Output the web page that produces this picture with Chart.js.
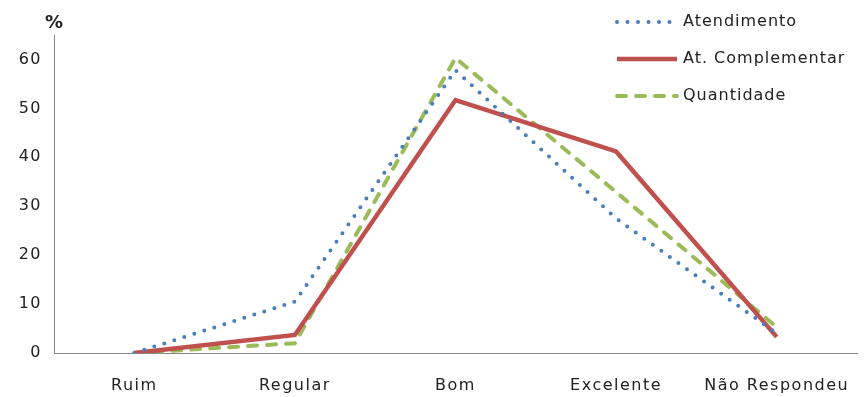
<!DOCTYPE html>
<html>
<head>
<meta charset="utf-8">
<script src="https://cdn.jsdelivr.net/npm/chart.js@4"></script>
<style>
  html, body { margin: 0; padding: 0; background: #fff; }
  #wrap { width: 866px; height: 397px; position: relative; }
</style>
</head>
<body>
<div id="wrap"><canvas id="c" width="866" height="397"></canvas></div>
<script>
// Categories and series (percent)
const categories = ['Ruim', 'Regular', 'Bom', 'Excelente', 'Não Respondeu'];
const atendimento = [0, 10.5, 57.8, 27.5, 4.0];
const atComplementar = [0, 3.7, 51.7, 41.2, 3.3];
const quantidade = [0, 2.0, 60.3, 32.9, 5.3];
const yTicks = [0, 10, 20, 30, 40, 50, 60];
const seriesNames = ['Atendimento', 'At. Complementar', 'Quantidade'];

const FONT = '"DejaVu Sans", "Open Sans", sans-serif';
const TEXT = '#222222';
const SPACING = '1.5px';

// Slightly tracked-out lettering for all canvas text
const tracking = {
  id: 'tracking',
  beforeDraw(chart) { chart.ctx.letterSpacing = SPACING; }
};

// Stacked legend in the upper right, plus the "%" unit label
const decorations = {
  id: 'decorations',
  afterDraw(chart) {
    const ctx = chart.ctx;
    ctx.save();
    ctx.letterSpacing = '0px';
    ctx.fillStyle = TEXT;
    ctx.font = 'bold 18px ' + FONT;
    ctx.textBaseline = 'middle';
    ctx.textAlign = 'left';
    ctx.fillText('%', 45, 23);

    const x0 = 617, x1 = 677, tx = 683;
    const rows = [22, 59, 96];
    chart.data.datasets.forEach((ds, i) => {
      const y = rows[i];
      ctx.save();
      ctx.strokeStyle = ds.borderColor;
      ctx.lineWidth = ds.borderWidth;
      ctx.lineCap = ds.borderCapStyle || 'butt';
      ctx.setLineDash(ds.borderDash || []);
      ctx.beginPath();
      ctx.moveTo(x0, y);
      ctx.lineTo(x1, y);
      ctx.stroke();
      ctx.restore();
      ctx.letterSpacing = '1px';
      ctx.fillStyle = TEXT;
      ctx.font = '16px ' + FONT;
      ctx.textBaseline = 'middle';
      ctx.fillText(ds.label, tx, y);
    });
    ctx.restore();
  }
};

new Chart(document.getElementById('c'), {
  type: 'line',
  data: {
    labels: categories,
    datasets: [
      {
        label: seriesNames[0],
        data: atendimento,
        borderColor: '#4A7EBB',
        borderWidth: 4,
        borderDash: [0, 10.5],
        borderCapStyle: 'round',
        pointRadius: 0,
        tension: 0
      },
      {
        label: seriesNames[1],
        data: atComplementar,
        borderColor: '#C0504D',
        borderWidth: 4.5,
        pointRadius: 0,
        tension: 0
      },
      {
        label: seriesNames[2],
        data: quantidade,
        borderColor: '#9BBB59',
        borderWidth: 4,
        borderDash: [9, 10],
        borderCapStyle: 'round',
        pointRadius: 0,
        tension: 0
      }
    ]
  },
  options: {
    responsive: false,
    animation: false,
    layout: { padding: { left: 0, right: 9, top: 35, bottom: 0 } },
    plugins: {
      legend: { display: false },
      tooltip: { enabled: false }
    },
    scales: {
      x: {
        offset: true,
        grid: { display: false, drawTicks: false },
        border: { display: true, color: '#868686', width: 1 },
        ticks: {
          color: TEXT,
          font: { family: FONT, size: 16 },
          padding: 23,
          maxRotation: 0,
          autoSkip: false
        },
        afterFit(scale) { scale.height = 44; }
      },
      y: {
        min: 0,
        max: 65,
        afterBuildTicks(scale) { scale.ticks = yTicks.map(v => ({ value: v })); },
        grid: { display: false, drawTicks: false },
        border: { display: true, color: '#868686', width: 1 },
        ticks: {
          color: TEXT,
          font: { family: FONT, size: 16 },
          padding: 12
        },
        afterFit(scale) { scale.width = 54; }
      }
    }
  },
  plugins: [tracking, decorations]
});
</script>
</body>
</html>
